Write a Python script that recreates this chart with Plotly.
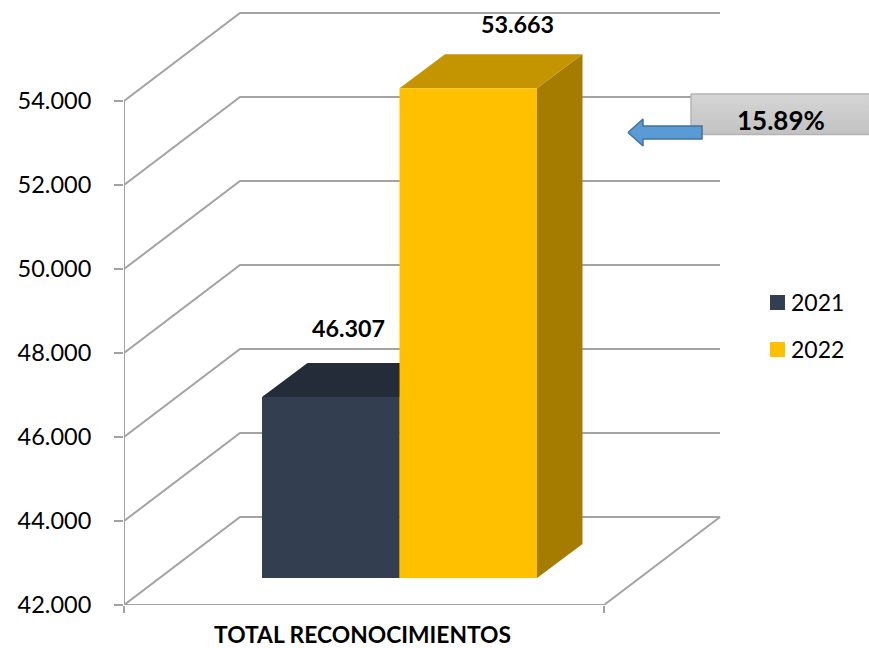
import plotly.graph_objects as go

# ---- data ----
series_names = ["2021", "2022"]
series_values = [46307, 53663]
value_labels = ["46.307", "53.663"]
tick_values = [42000, 44000, 46000, 48000, 50000, 52000, 54000]
tick_labels = ["42.000", "44.000", "46.000", "48.000", "50.000", "52.000", "54.000"]
category = "TOTAL RECONOCIMIENTOS"
change_label = "15.89%"

# ---- style ----
front_colors = ["#333F50", "#FFC000"]
top_colors = ["#232C38", "#C49500"]
side_colors = ["#232C38", "#A67C00"]
GRID = "#A3A3A3"
FONT = "Lato, Carlito, 'Open Sans', sans-serif"

W, H = 869, 648
LEFT, BOTTOM = 124, 43
FLOOR_PX = 605
PX_PER_UNIT = 0.042
V0 = tick_values[0]
Y_TOP = V0 + FLOOR_PX / PX_PER_UNIT


def val_from_px(py):
    return V0 + (FLOOR_PX - py) / PX_PER_UNIT


def oblique(x, value, dx, dy):
    """Shift a plot point by (dx, dy) pixels; dy positive = up."""
    return x + dx, value + dy / PX_PER_UNIT


def poly(points, fill, line=None, width=0, **kw):
    xs = [p[0] for p in points] + [points[0][0]]
    ys = [p[1] for p in points] + [points[0][1]]
    return go.Scatter(x=xs, y=ys, mode="lines", fill="toself", fillcolor=fill,
                      line=dict(color=line or fill, width=width),
                      hoverinfo="skip", showlegend=False, **kw)


fig = go.Figure()

# wall / floor grid
WALL_DX, WALL_DY = 116, 88
for v in tick_values:
    a = (LEFT, v)
    b = oblique(LEFT, v, WALL_DX, WALL_DY)
    c = oblique(720 - WALL_DX, v, WALL_DX, WALL_DY)
    xs = [a[0], b[0], c[0]]
    ys = [a[1], b[1], c[1]]
    if v == V0:
        xs += [604, LEFT]
        ys += [V0, V0]
    fig.add_trace(go.Scatter(x=xs, y=ys, mode="lines", line=dict(color=GRID, width=2),
                             hoverinfo="skip", showlegend=False))
fig.add_trace(go.Scatter(x=[LEFT, LEFT], y=[val_from_px(612), tick_values[-1]], mode="lines",
                         line=dict(color=GRID, width=2), hoverinfo="skip", showlegend=False))

# 3D bars
BAR_EDGES = [(262, 399.5), (399.5, 537)]
BASE_LIFT = FLOOR_PX - 578
DEPTH_DX, DEPTH_DY = 45.5, 34
for i, val in enumerate(series_values):
    x0, x1 = BAR_EDGES[i]

    def pt(x, v, back=False):
        px, pv = oblique(x, v, 0, BASE_LIFT)
        if back:
            px, pv = oblique(px, pv, DEPTH_DX, DEPTH_DY)
        return px, pv
    fig.add_trace(poly([pt(x1, V0), pt(x1, V0, True), pt(x1, val, True), pt(x1, val)], side_colors[i]))
    fig.add_trace(poly([pt(x0, val), pt(x1, val), pt(x1, val, True), pt(x0, val, True)], top_colors[i]))
    fig.add_trace(poly([pt(x0, V0), pt(x1, V0), pt(x1, val), pt(x0, val)], front_colors[i]))

# key entries
key_rows_px = [302.5, 349.5]
for name, col, row in zip(series_names, front_colors, key_rows_px):
    fig.add_trace(go.Scatter(x=[777.5], y=[val_from_px(row)], mode="markers", name=name,
                             marker=dict(symbol="square", size=15, color=col),
                             hoverinfo="skip", showlegend=False))
    fig.add_annotation(x=789, y=val_from_px(row - 1), text=name, showarrow=False, xanchor="left",
                       font=dict(family=FONT, size=23, color="#000000"))

# call-out box with gradient
box_x = [691, 870, 870, 691, 691]
box_y = [val_from_px(p) for p in (94, 94, 134.5, 134.5, 94)]
fig.add_trace(go.Scatter(x=box_x, y=box_y, mode="lines", fill="toself",
                         fillgradient=dict(type="vertical",
                                           colorscale=[[0, "#C2C2C2"], [1, "#D6D6D6"]]),
                         line=dict(color="#B4B4B4", width=1.5),
                         hoverinfo="skip", showlegend=False))

# arrow
arrow_px = [(628, 132.5), (643, 119), (643, 126), (702, 126), (702, 139), (643, 139), (643, 146)]
fig.add_trace(poly([(x, val_from_px(y)) for x, y in arrow_px], "#5B9BD5", "#41719C", 1.5))

# annotations
label_shift = [(18, 96), (49, 91)]
for i, (val, txt) in enumerate(zip(series_values, value_labels)):
    x0, x1 = BAR_EDGES[i]
    fig.add_annotation(x=(x0 + x1) / 2, y=val, text=f"<b>{txt}</b>", showarrow=False,
                       xshift=label_shift[i][0], yshift=label_shift[i][1],
                       font=dict(family=FONT, size=23.3, color="#000000"))
fig.add_annotation(x=781, y=val_from_px(119.5), text=f"<b>{change_label}</b>", showarrow=False,
                   font=dict(family=FONT, size=26, color="#000000"))
fig.add_annotation(x=362.5, y=V0, yshift=-29, text=f"<b>{category}</b>", showarrow=False,
                   yanchor="middle", font=dict(family=FONT, size=22.8, color="#000000"))

fig.update_layout(
    width=W, height=H,
    margin=dict(l=LEFT, r=0, t=0, b=BOTTOM, pad=0),
    paper_bgcolor="#FFFFFF", plot_bgcolor="rgba(0,0,0,0)",
    autosize=False, showlegend=False,
    xaxis=dict(range=[LEFT, W], showgrid=False, zeroline=False, showline=False,
               automargin=False,
               tickmode="array", tickvals=[LEFT, 604], showticklabels=False,
               ticks="outside", ticklen=7, tickcolor=GRID, tickwidth=1.5),
    yaxis=dict(range=[V0, Y_TOP], showgrid=False, zeroline=False, showline=False,
               automargin=False,
               tickmode="array", tickvals=tick_values, ticktext=tick_labels,
               ticks="outside", ticklen=9, tickcolor=GRID, tickwidth=1.5,
               ticklabelstandoff=18,
               tickfont=dict(family=FONT, size=23.5, color="#000000")),
)

fig.write_html("out.html", post_script="document.body.style.margin='0';",
               config=dict(displayModeBar=False))
